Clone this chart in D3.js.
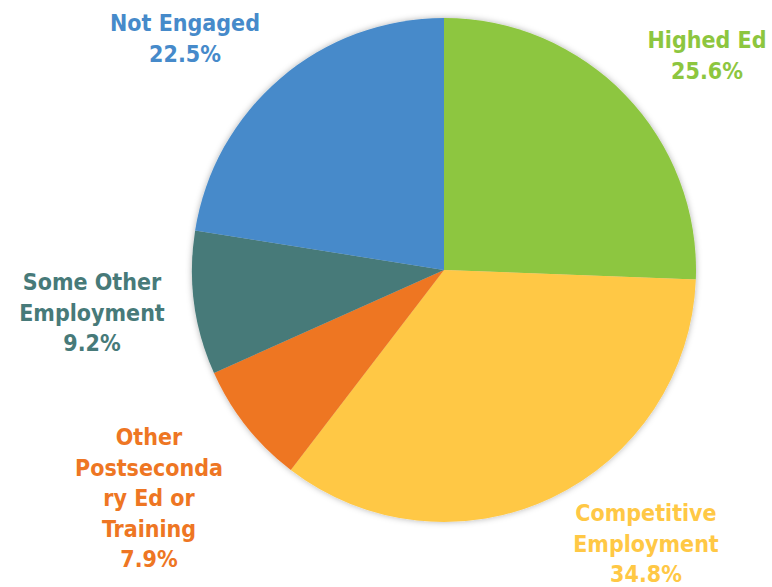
<!DOCTYPE html>
<html>
<head>
<meta charset="utf-8">
<script src="https://cdn.jsdelivr.net/npm/d3@7"></script>
<style>
  html, body { margin: 0; padding: 0; background: #fff; }
  svg text { font-family: "DejaVu Sans Condensed", "DejaVu Sans", sans-serif; font-weight: bold; font-size: 23px; }
</style>
</head>
<body>
<svg id="chart" width="772" height="587"></svg>
<script>
// slices, clockwise from 12 o'clock
var categories = ["Highed Ed", "Competitive Employment", "Other Postsecondary Ed or Training", "Some Other Employment", "Not Engaged"];
var values = [25.6, 34.8, 7.9, 9.2, 22.5];
var colors = ["#8dc63f", "#ffc845", "#ee7623", "#477a79", "#468aca"];
// label lines as they wrap in the picture
var labelLines = [
  ["Highed Ed", "25.6%"],
  ["Competitive", "Employment", "34.8%"],
  ["Other", "Postseconda", "ry Ed or", "Training", "7.9%"],
  ["Some Other", "Employment", "9.2%"],
  ["Not Engaged", "22.5%"]
];
var labelPos = [[707, 48], [646, 521], [149, 445], [92, 290], [185, 31]];

var svg = d3.select("#chart");
var cx = 444, cy = 270, r = 252;

var defs = svg.append("defs");
var f = defs.append("filter").attr("id", "shadow")
  .attr("x", "-10%").attr("y", "-10%").attr("width", "120%").attr("height", "120%");
f.append("feDropShadow").attr("dx", 0).attr("dy", 0)
  .attr("stdDeviation", 3).attr("flood-color", "#000").attr("flood-opacity", 0.3);

var pie = d3.pie().sort(null).value(function (d) { return d; });
var arc = d3.arc().innerRadius(0).outerRadius(r);
var arcs = pie(values);

var g = svg.append("g").attr("transform", "translate(" + cx + "," + cy + ")");
g.append("g").attr("filter", "url(#shadow)")
  .selectAll("path").data(arcs).enter().append("path")
  .attr("d", arc)
  .attr("fill", function (d, i) { return colors[i]; });

var labels = svg.selectAll("text.lbl").data(arcs).enter().append("text")
  .attr("class", "lbl")
  .attr("text-anchor", "middle")
  .attr("fill", function (d, i) { return colors[i]; });
labels.each(function (d, i) {
  var t = d3.select(this);
  labelLines[i].forEach(function (line, j) {
    t.append("tspan")
      .attr("x", labelPos[i][0])
      .attr("y", labelPos[i][1] + j * 30.6)
      .text(line);
  });
});
</script>
</body>
</html>
